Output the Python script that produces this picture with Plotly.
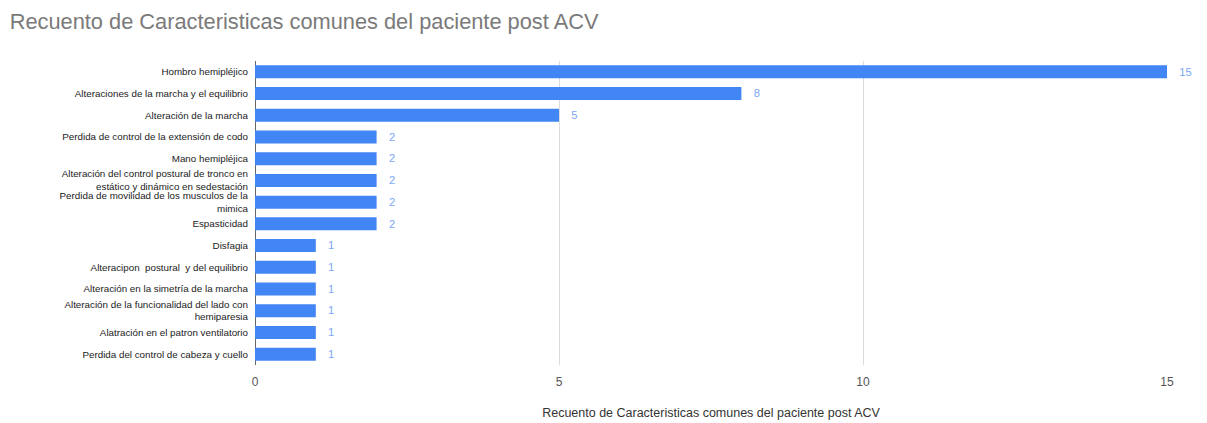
import plotly.graph_objects as go

categories = [
    "Hombro hemipléjico",
    "Alteraciones de la marcha y el equilibrio",
    "Alteración de la marcha",
    "Perdida de control de la extensión de codo",
    "Mano hemipléjica",
    "Alteración del control postural de tronco en<br>estático y dinámico en sedestación",
    "Perdida de movilidad de los musculos de la<br>mimica",
    "Espasticidad",
    "Disfagia",
    "Alteracipon  postural  y del equilibrio",
    "Alteración en la simetría de la marcha",
    "Alteración de la funcionalidad del lado con<br>hemiparesia",
    "Alatración en el patron ventilatorio",
    "Perdida del control de cabeza y cuello",
]
counts = [15, 8, 5, 2, 2, 2, 2, 2, 1, 1, 1, 1, 1, 1]
x_ticks = [0, 5, 10, 15]

title_text = "Recuento de Caracteristicas comunes del paciente post ACV"

fig = go.Figure(
    go.Bar(
        x=counts,
        y=categories,
        orientation="h",
        marker=dict(color="#4285F4", line=dict(width=0)),
        texttemplate="   %{x}",
        textposition="outside",
        textfont=dict(family="Liberation Sans, Arial", size=12, color="#7BA7F7"),
        cliponaxis=False,
        width=0.6,
    )
)

fig.update_layout(
    width=1207,
    height=423,
    margin=dict(l=255, r=40, t=61, b=58, autoexpand=False),
    paper_bgcolor="white",
    plot_bgcolor="white",
    showlegend=False,
    title=dict(
        text=title_text,
        x=0.008,
        xanchor="left",
        y=0.95,
        yanchor="middle",
        font=dict(family="Liberation Sans, Arial", size=21.8, color="#7a7a7a"),
    ),
    xaxis=dict(
        range=[0, 15],
        tickvals=x_ticks,
        ticktext=[str(t) for t in x_ticks],
        showgrid=True,
        gridcolor="#dcdcdc",
        zeroline=True,
        zerolinecolor="#666666",
        zerolinewidth=1,
        tickfont=dict(family="Liberation Sans, Arial", size=12, color="#555555"),
        ticks="",
        ticklabelstandoff=8,
        automargin=False,
        title=dict(
            text=title_text,
            font=dict(family="Liberation Sans, Arial", size=12.5, color="#333333"),
            standoff=20,
        ),
    ),
    yaxis=dict(
        autorange="reversed",
        showgrid=False,
        automargin=False,
        tickfont=dict(family="Liberation Sans, Arial", size=9.8, color="#222222"),
        ticks="",
        ticklabelstandoff=6,
    ),
)

fig.write_html("out.html")
